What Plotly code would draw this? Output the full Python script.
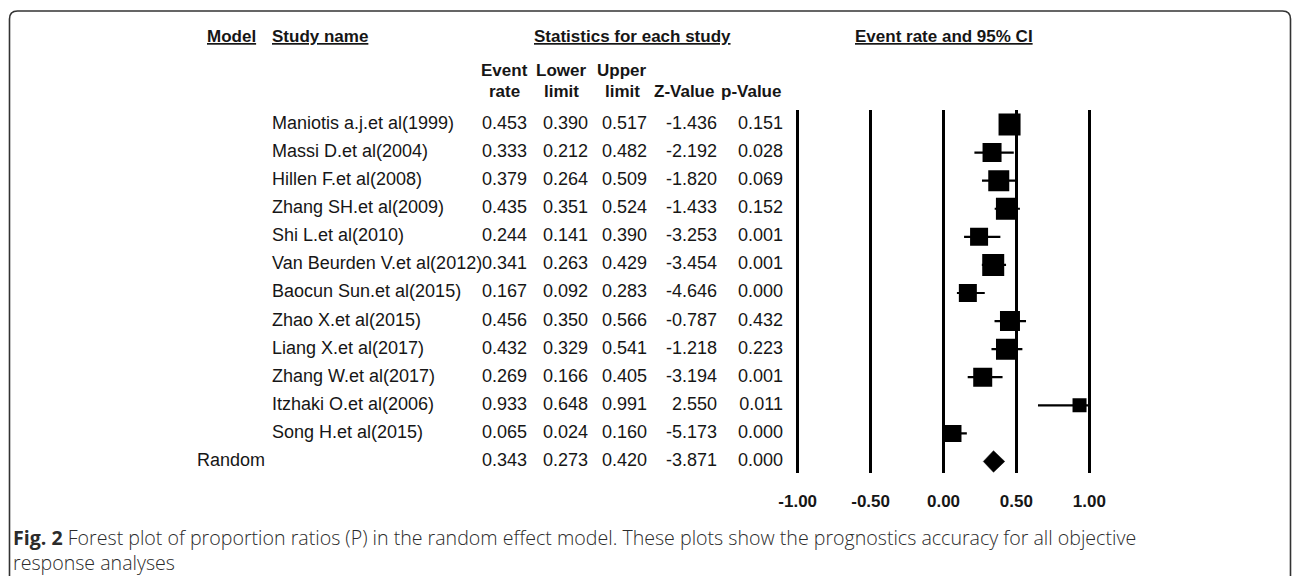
import plotly.graph_objects as go

# ---------------- data ----------------
studies = [
    "Maniotis a.j.et al(1999)", "Massi D.et al(2004)", "Hillen F.et al(2008)",
    "Zhang SH.et al(2009)", "Shi L.et al(2010)", "Van Beurden V.et al(2012)",
    "Baocun Sun.et al(2015)", "Zhao X.et al(2015)", "Liang X.et al(2017)",
    "Zhang W.et al(2017)", "Itzhaki O.et al(2006)", "Song H.et al(2015)",
]
event_rate = [0.453, 0.333, 0.379, 0.435, 0.244, 0.341, 0.167, 0.456, 0.432, 0.269, 0.933, 0.065]
lower_limit = [0.390, 0.212, 0.264, 0.351, 0.141, 0.263, 0.092, 0.350, 0.329, 0.166, 0.648, 0.024]
upper_limit = [0.517, 0.482, 0.509, 0.524, 0.390, 0.429, 0.283, 0.566, 0.541, 0.405, 0.991, 0.160]
z_value = [-1.436, -2.192, -1.820, -1.433, -3.253, -3.454, -4.646, -0.787, -1.218, -3.194, 2.550, -5.173]
p_value = [0.151, 0.028, 0.069, 0.152, 0.001, 0.001, 0.000, 0.432, 0.223, 0.001, 0.011, 0.000]

random_label = "Random"
random_rate = 0.343
random_lower = 0.273
random_upper = 0.420
random_z = -3.871
random_p = 0.000

tick_values = [-1.0, -0.5, 0.0, 0.5, 1.0]
tick_labels = ["-1.00", "-0.50", "0.00", "0.50", "1.00"]

# study weight markers (px)
square_px = [22, 19, 21, 22, 18, 22, 18, 20, 21, 19, 14, 17]

# ---------------- layout helpers ----------------
W, H = 1292, 576
ROW0_PX = 124.5
ROW_PX = 28.08


def row_of(py):
    return (py - ROW0_PX) / ROW_PX


def fx(px):
    return px / W


def fy(py):
    return 1 - py / H


X_LEFT_PX, X_RIGHT_PX = 797.7, 1089.3          # pixel positions of -1 and +1
UNIT = (X_RIGHT_PX - X_LEFT_PX) / 2.0
XR = (-1.05, 1.05)
dom_x0 = X_LEFT_PX + (XR[0] + 1) * UNIT
dom_x1 = X_LEFT_PX + (XR[1] + 1) * UNIT
GRID_TOP, GRID_BOT = 110.0, 473.3

n = len(studies)
rows = list(range(n))
rand_row = n

TXT = dict(family="Liberation Sans, Arial, sans-serif", size=18, color="#161616")
HDR = dict(family="Liberation Sans, Arial, sans-serif", size=17, color="#161616", weight="bold")

fig = go.Figure()

# ---------------- forest plot ----------------
fig.add_trace(go.Scatter(
    x=event_rate, y=rows, mode="markers",
    marker=dict(symbol="square", size=square_px, color="black", opacity=1,
                line=dict(width=0)),
    error_x=dict(type="data", symmetric=False,
                 array=[u - e for u, e in zip(upper_limit, event_rate)],
                 arrayminus=[e - l for e, l in zip(event_rate, lower_limit)],
                 thickness=2.2, width=0, color="black"),
    xaxis="x", yaxis="y", hoverinfo="skip", showlegend=False,
))

half_h = 10.8 / ROW_PX
fig.add_trace(go.Scatter(
    x=[random_lower, random_rate, random_upper, random_rate, random_lower],
    y=[rand_row, rand_row - half_h, rand_row, rand_row + half_h, rand_row],
    mode="lines", fill="toself", fillcolor="black",
    line=dict(color="black", width=0.5),
    xaxis="x", yaxis="y", hoverinfo="skip", showlegend=False,
))

# ---------------- table text ----------------
all_rows = rows + [rand_row]


def add_col(texts, ys, xpx, pos, font=TXT):
    fig.add_trace(go.Scatter(
        x=[xpx] * len(texts), y=ys, text=texts, mode="text",
        textposition=pos, textfont=font, cliponaxis=False,
        xaxis="x2", yaxis="y2", hoverinfo="skip", showlegend=False,
    ))


add_col(studies, rows, 272, "middle right")
add_col([random_label], [rand_row], 197, "middle right")
add_col([f"{v:.3f}" for v in event_rate + [random_rate]], all_rows, 527, "middle left")
add_col([f"{v:.3f}" for v in lower_limit + [random_lower]], all_rows, 588, "middle left")
add_col([f"{v:.3f}" for v in upper_limit + [random_upper]], all_rows, 647, "middle left")
add_col([f"{v:.3f}" for v in z_value + [random_z]], all_rows, 717, "middle left")
add_col([f"{v:.3f}" for v in p_value + [random_p]], all_rows, 783, "middle left")

# ---------------- headers (annotations) ----------------
annotations = []


def ann(text, xpx, ypx, anchor="center", font=HDR):
    annotations.append(dict(text=text, x=fx(xpx), y=fy(ypx), xref="paper", yref="paper",
                            xanchor=anchor, yanchor="middle", showarrow=False,
                            font=font, borderpad=0))


ann("<u>Model</u>", 206, 36, "left")
ann("<u>Study name</u>", 271, 36, "left")
ann("<u>Statistics for each study</u>", 632.5, 36)
ann("<u>Event rate and 95% CI</u>", 944, 36)

sub_top = ["Event", "Lower", "Upper", "", ""]
sub_bot = ["rate", "limit", "limit", "Z-Value", "p-Value"]
sub_cx = [504, 561, 622, 684, 751]
for t, b, cx in zip(sub_top, sub_bot, sub_cx):
    if t:
        ann(t, cx, 70, "center")
    ann(b, cx, 91, "center")

CAP = dict(family="Open Sans, Noto Sans, sans-serif", size=19.6, color="#2b2b2b", weight=300)
ann("<span style='font-weight:bold'>Fig. 2</span> Forest plot of proportion ratios (P) in the random effect model. "
    "These plots show the prognostics accuracy for all objective", 12, 537, "left", CAP)
ann("response analyses", 12, 562, "left", CAP)

# ---------------- frame ----------------
r = 8
L, T, R = 9.5, 11.0, 1290.5
path = (f"M {fx(L)} {fy(H + 2)} L {fx(L)} {fy(T + r)} "
        f"Q {fx(L)} {fy(T)} {fx(L + r)} {fy(T)} "
        f"L {fx(R - r)} {fy(T)} Q {fx(R)} {fy(T)} {fx(R)} {fy(T + r)} "
        f"L {fx(R)} {fy(H + 2)}")

fig.update_layout(
    width=W, height=H, margin=dict(l=0, r=0, t=0, b=0, autoexpand=False),
    paper_bgcolor="white", plot_bgcolor="rgba(0,0,0,0)",
    showlegend=False,
    xaxis=dict(domain=[fx(dom_x0), fx(dom_x1)], range=list(XR), anchor="y",
               tickvals=tick_values, ticktext=tick_labels, ticks="",
               showgrid=True, gridcolor="black", gridwidth=2.5,
               zeroline=False, showline=False, fixedrange=True, automargin=False,
               tickfont=dict(family="Liberation Sans, Arial, sans-serif", size=17,
                             color="#161616", weight="bold"),
               ticklabelstandoff=16),
    yaxis=dict(domain=[fy(GRID_BOT), fy(GRID_TOP)],
               range=[row_of(GRID_BOT), row_of(GRID_TOP)], anchor="x",
               visible=False, showgrid=False, zeroline=False, fixedrange=True),
    xaxis2=dict(domain=[0, 1], range=[0, W], anchor="y2", visible=False,
                showgrid=False, zeroline=False, fixedrange=True),
    yaxis2=dict(domain=[0, 1], range=[row_of(H), row_of(0)], anchor="x2",
                visible=False, showgrid=False, zeroline=False, fixedrange=True),
    annotations=annotations,
    shapes=[dict(type="path", path=path, xref="paper", yref="paper",
                 line=dict(color="#333333", width=1.6))],
)

fig.write_html("out.html")
